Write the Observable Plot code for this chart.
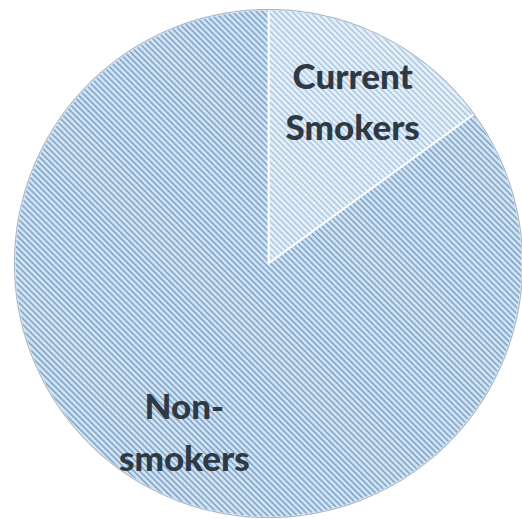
<!DOCTYPE html>
<html><head><meta charset="utf-8">
<script src="https://cdn.jsdelivr.net/npm/d3@7"></script>
<script src="https://cdn.jsdelivr.net/npm/@observablehq/plot@0.6"></script>
<style>body{margin:0;background:#fff;overflow:hidden}</style>
</head><body><div id="chart"></div>
<script>
const categories = ["Current Smokers", "Non-smokers"];
const values = [15, 85];
const labels = ["Current\nSmokers", "Non-\nsmokers"];
const fills = ["url(#hatchSmokers)", "url(#hatchNon)"];

const W = 522, H = 519, cx = 268, cy = 263, R = 254;

const arcs = d3.pie().sort(null).value((d, i) => values[i])(categories);
const slices = arcs.map((a, i) => {
  const pts = [{x: 0, y: 0}];
  const n = 180;
  for (let k = 0; k <= n; k++) {
    const t = a.startAngle + (a.endAngle - a.startAngle) * k / n;
    pts.push({x: Math.sin(t), y: Math.cos(t)});
  }
  pts.push({x: 0, y: 0});
  return pts;
});
const ring = d3.range(0, 361).map(d => ({x: Math.sin(d * Math.PI / 180), y: Math.cos(d * Math.PI / 180)}));
const labelData = arcs.map((a, i) => {
  const m = (a.startAngle + a.endAngle) / 2;
  return {text: labels[i], x: 0.73 * Math.sin(m), y: 0.73 * Math.cos(m)};
});

const chart = Plot.plot({
  width: W, height: H,
  margin: 0,
  x: {domain: [-cx / R, (W - cx) / R], axis: null},
  y: {domain: [-(H - cy) / R, cy / R], axis: null},
  marks: [
    ...slices.map((pts, i) => Plot.line(pts, {x: "x", y: "y", fill: fills[i], stroke: "#ffffff", strokeWidth: 2, strokeOpacity: 0.9, curve: "linear"})),
    Plot.line(ring, {x: "x", y: "y", stroke: "#a9b9ca", strokeWidth: 1.2}),
    Plot.text(labelData, {x: "x", y: "y", text: "text", fontSize: 35, fontWeight: 900, fontFamily: "Lato", lineHeight: 1.47, fill: "#2e3944", textAnchor: "middle"})
  ]
});

chart.insertAdjacentHTML("afterbegin", `<defs>
<pattern id="hatchNon" patternUnits="userSpaceOnUse" width="4.2" height="4.2" patternTransform="rotate(-45)">
<rect width="4.2" height="4.2" fill="#d0e4f6"/><rect width="1.7" height="4.2" fill="#88a8c9"/></pattern>
<pattern id="hatchSmokers" patternUnits="userSpaceOnUse" width="4.2" height="4.2" patternTransform="rotate(-45)">
<rect width="4.2" height="4.2" fill="#e6f0fa"/><rect width="1.7" height="4.2" fill="#b2cbe4"/></pattern>
</defs>`);
document.getElementById("chart").appendChild(chart);
</script>
</body></html>
